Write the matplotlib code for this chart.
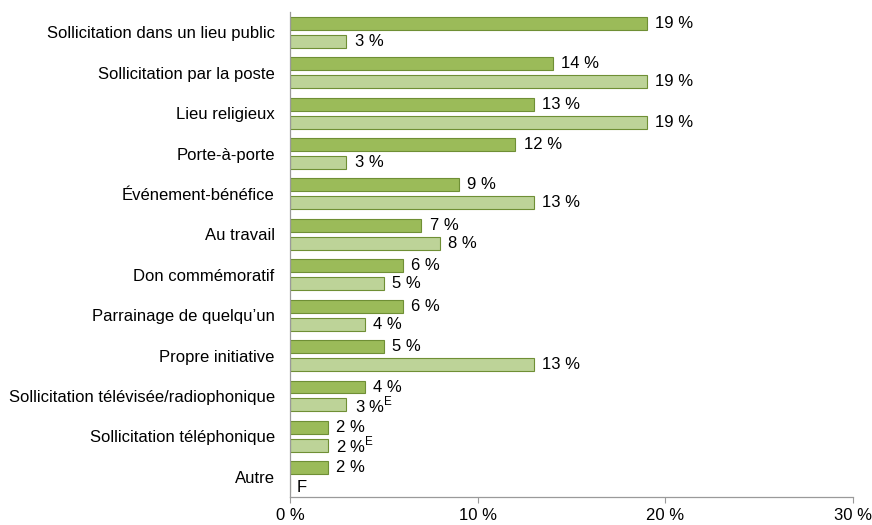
import numpy as np
import matplotlib
matplotlib.use("Agg")
import matplotlib.pyplot as plt

plt.rcParams["font.family"] = ["Liberation Sans", "DejaVu Sans"]
plt.rcParams["mathtext.fontset"] = "custom"
plt.rcParams["mathtext.rm"] = "Liberation Sans"

categories = [
    "Sollicitation dans un lieu public",
    "Sollicitation par la poste",
    "Lieu religieux",
    "Porte-à-porte",
    "Événement-bénéfice",
    "Au travail",
    "Don commémoratif",
    "Parrainage de quelqu’un",
    "Propre initiative",
    "Sollicitation télévisée/radiophonique",
    "Sollicitation téléphonique",
    "Autre",
]
dark_values = [19, 14, 13, 12, 9, 7, 6, 6, 5, 4, 2, 2]
light_values = [3, 19, 19, 3, 13, 8, 5, 4, 13, 3, 2, None]
# quality flags for the light series ("E" = use with caution, "F" = too unreliable)
light_flags = ["", "", "", "", "", "", "", "", "", "E", "E", "F"]

dark_color = "#9BBB59"
light_color = "#BDD398"
edge_color = "#6F8F35"
fs = 12

fig = plt.figure(figsize=(8.72, 5.25), dpi=100)
ax = fig.add_axes([0.3326, 0.0533, 0.6456, 0.9237])

y = np.arange(len(categories))
h = 0.32
off = 0.222

ax.barh(y - off, dark_values, height=h, color=dark_color,
        edgecolor=edge_color, linewidth=0.8)
light_plot = [v if v is not None else 0 for v in light_values]
ax.barh(y + off, light_plot, height=h, color=light_color,
        edgecolor=edge_color, linewidth=0.8)

for yi, v in zip(y, dark_values):
    ax.annotate(f"{v} %", (v, yi - off), xytext=(6, 0), textcoords="offset points",
                va="center", ha="left", fontsize=fs)

for yi, v, flag in zip(y, light_values, light_flags):
    if v is None:
        ax.annotate(flag, (0, yi + off), xytext=(5, -1), textcoords="offset points",
                    va="center", ha="left", fontsize=fs)
        continue
    label = f"{v} %"
    if flag:
        label += r"$^{\mathrm{" + flag + "}}$"
    ax.annotate(label, (v, yi + off), xytext=(6, 0), textcoords="offset points",
                va="center", ha="left", fontsize=fs)

ax.set_yticks(y)
ax.set_yticklabels(categories, fontsize=fs)
ax.tick_params(axis="y", length=0, pad=11)
ax.set_ylim(len(categories) - 0.5, -0.5)

ax.set_xlim(0, 30)
ax.set_xticks([0, 10, 20, 30])
ax.set_xticklabels(["0 %", "10 %", "20 %", "30 %"], fontsize=fs)
ax.tick_params(axis="x", length=4, color="#9A9A9A", pad=4)

for side in ["top", "right"]:
    ax.spines[side].set_visible(False)
for side in ["left", "bottom"]:
    ax.spines[side].set_color("#9A9A9A")
    ax.spines[side].set_linewidth(0.9)

fig.savefig("out.png", dpi=100)
